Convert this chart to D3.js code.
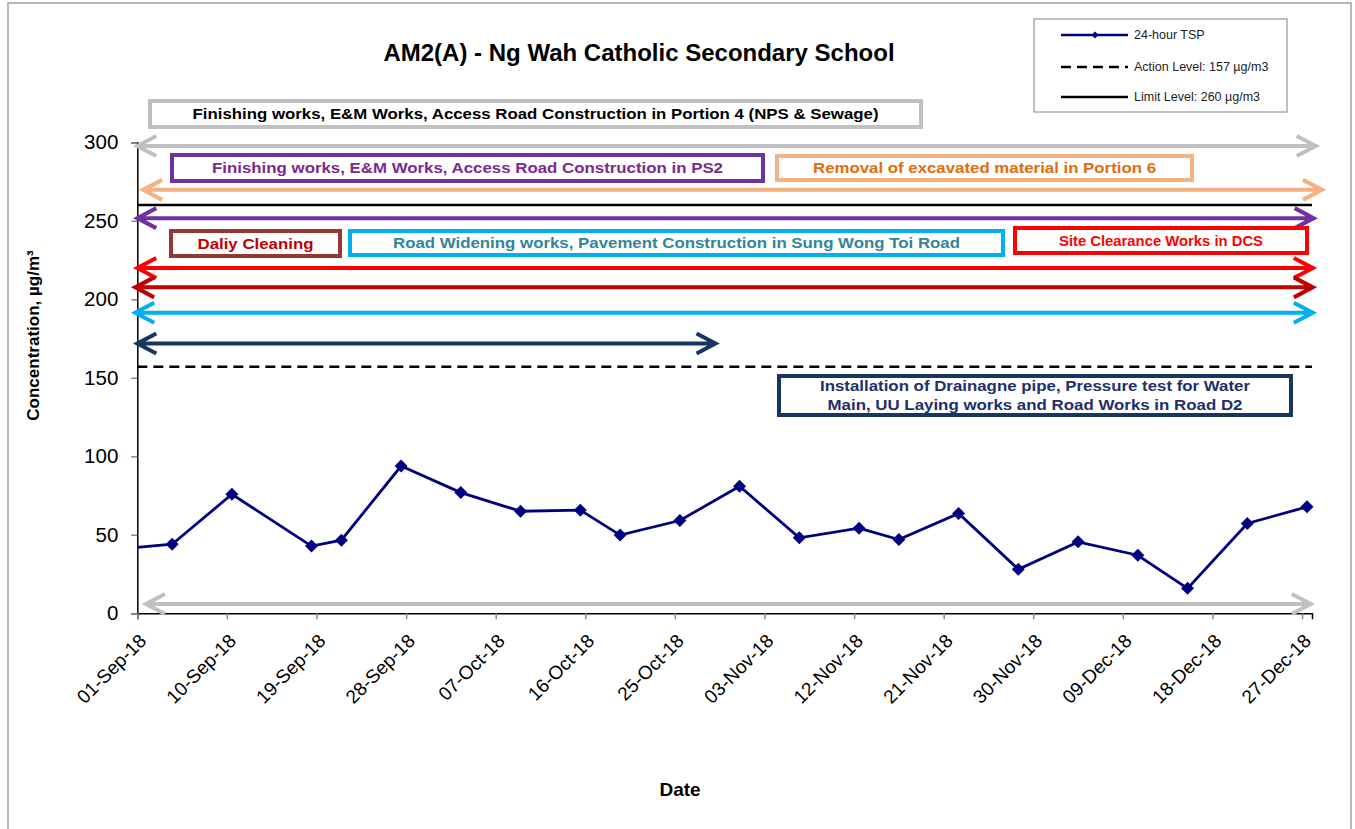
<!DOCTYPE html>
<html>
<head>
<meta charset="utf-8">
<script src="https://cdn.jsdelivr.net/npm/d3@7"></script>
<style>
  body { margin: 0; background: #fff; }
  svg { display: block; font-family: "Liberation Sans", Arial, sans-serif; }
</style>
</head>
<body>
<div id="chart"></div>
<script>
// 24-hour TSP sampling days and results (µg/m3)
const sampleDates = ["2018-08-29", "2018-09-04", "2018-09-10", "2018-09-18", "2018-09-21", "2018-09-27",
  "2018-10-03", "2018-10-09", "2018-10-15", "2018-10-19", "2018-10-25", "2018-10-31",
  "2018-11-06", "2018-11-12", "2018-11-16", "2018-11-22", "2018-11-28",
  "2018-12-04", "2018-12-10", "2018-12-15", "2018-12-21", "2018-12-27"];
const tspValues = [40.5, 44.0, 75.8, 42.8, 46.6, 93.8,
  76.9, 65.0, 65.7, 49.8, 59.1, 80.9,
  48.1, 54.2, 47.0, 63.6, 28.0,
  45.5, 37.0, 15.9, 57.2, 67.8];

const tickLabels = ["01-Sep-18", "10-Sep-18", "19-Sep-18", "28-Sep-18", "07-Oct-18", "16-Oct-18", "25-Oct-18",
  "03-Nov-18", "12-Nov-18", "21-Nov-18", "30-Nov-18", "09-Dec-18", "18-Dec-18", "27-Dec-18"];
const yTicks = [0, 50, 100, 150, 200, 250, 300];

const actionLevel = 157;
const limitLevel = 260;

// works period arrows: level on the y axis, start / end as days after 01-Sep-18
const arrowLevels = [297.7, 269.7, 251.7, 219.9, 207.6, 191.5, 171.8, 5.9];
const arrowStart = [0, 0.6, 0, 0, -0.2, -0.2, 0, 0.9];
const arrowEnd = [118.4, 119.0, 118.2, 118.1, 118.1, 118.1, 58.1, 117.9];
const arrowColors = ["#c0c0c0", "#f4b183", "#7030a0", "#ff0000", "#c00000", "#00b0f0", "#17375e", "#c0c0c0"];

// works labels
const workLabels = [
  ["Finishing works, E&M Works, Access Road Construction in Portion 4 (NPS & Sewage)"],
  ["Finishing works, E&M Works, Access Road Construction in PS2"],
  ["Removal of excavated material in Portion 6"],
  ["Daliy Cleaning"],
  ["Road Widening works, Pavement Construction in Sung Wong Toi Road"],
  ["Site Clearance Works in DCS"],
  ["Installation of Drainagne pipe, Pressure test for Water", "Main, UU Laying works and Road Works in Road D2"]
];
const workBorder = ["#c0c0c0", "#7030a0", "#f4b183", "#953735", "#00b0f0", "#ff0000", "#17375e"];
const workText = ["#000000", "#7b2a8e", "#e46c0a", "#c00000", "#31859c", "#ff0000", "#1f2f6b"];
// label box layout [x, y, w, h]
const workBoxes = [[150, 101, 771, 26], [172, 155, 591, 26], [777, 156, 415, 24], [171, 231, 169, 25],
  [350, 231, 653, 24], [1015, 228, 292, 25], [779, 376, 512, 39]];
const workTextWidth = [[686], [511], [343], [116], [567], [204], [430, 415]];

const width = 1355, height = 829;
const parse = d3.timeParse("%Y-%m-%d");
const day0 = parse("2018-09-01");

const x = d3.scaleTime().domain([day0, parse("2018-12-28")]).range([137.3, 1312]);
const y = d3.scaleLinear().domain([0, 300]).range([613.3, 142.3]);
const dayX = (n) => x(d3.timeHour.offset(day0, n * 24));

const svg = d3.create("svg").attr("width", width).attr("height", height);

// outer frame
svg.append("rect").attr("x", 8).attr("y", 3).attr("width", 1343).attr("height", 860)
  .attr("fill", "#fff").attr("stroke", "#a0a0a0").attr("stroke-width", 1.5);

// title
svg.append("text").attr("x", 639).attr("y", 61).attr("text-anchor", "middle")
  .attr("font-size", 24).attr("font-weight", "bold").text("AM2(A) - Ng Wah Catholic Secondary School");

// axes
const yAxis = svg.append("g").attr("transform", "translate(137.3,0)")
  .call(d3.axisLeft(y).tickValues(yTicks).tickSize(6).tickPadding(13).tickFormat(d3.format("d")));
const xAxis = svg.append("g").attr("transform", "translate(0,613.3)")
  .call(d3.axisBottom(x).tickValues(tickLabels.map(d3.timeParse("%d-%b-%y")))
    .tickSize(6).tickFormat(d3.timeFormat("%d-%b-%y")));
[yAxis, xAxis].forEach((g) => {
  g.select(".domain").attr("stroke", "#000").attr("stroke-width", 1.5);
  g.selectAll(".tick line").attr("stroke", "#888").attr("stroke-width", 1.5);
  g.selectAll(".tick text").attr("fill", "#000").attr("font-family", "Liberation Sans, Arial, sans-serif");
});
yAxis.selectAll(".tick text").attr("font-size", 20.5);
xAxis.selectAll(".tick text").attr("font-size", 19)
  .attr("y", 0).attr("dy", "0.35em").attr("text-anchor", "end")
  .attr("transform", "translate(5,24) rotate(-45)");

// axis titles
svg.append("text").attr("transform", "translate(38.5,335.5) rotate(-90)").attr("text-anchor", "middle")
  .attr("font-size", 17).attr("font-weight", "bold").text("Concentration, µg/m³");
svg.append("text").attr("x", 680).attr("y", 796).attr("text-anchor", "middle")
  .attr("font-size", 19).attr("font-weight", "bold").text("Date");

// action and limit levels
svg.append("line").attr("x1", x.range()[0]).attr("x2", x.range()[1])
  .attr("y1", y(actionLevel)).attr("y2", y(actionLevel))
  .attr("stroke", "#000").attr("stroke-width", 2.5).attr("stroke-dasharray", "10,6");
svg.append("line").attr("x1", x.range()[0]).attr("x2", x.range()[1])
  .attr("y1", y(limitLevel)).attr("y2", y(limitLevel))
  .attr("stroke", "#000").attr("stroke-width", 2.5);

// works period arrows
const arrows = svg.append("g").attr("fill", "none").attr("stroke-width", 4);
arrowLevels.forEach((lv, i) => {
  const a = dayX(arrowStart[i]), b = dayX(arrowEnd[i]), yy = y(lv);
  arrows.append("path")
    .attr("d", `M${a},${yy}H${b}M${a + 19},${yy - 10}L${a},${yy}L${a + 19},${yy + 10}M${b - 19},${yy - 10}L${b},${yy}L${b - 19},${yy + 10}`)
    .attr("stroke", arrowColors[i]);
});

// works label boxes
const defs = svg.append("defs");
workLabels.forEach((lines, i) => {
  const [bx, by, bw, bh] = workBoxes[i];
  defs.append("clipPath").attr("id", "clip" + i)
    .append("rect").attr("x", bx).attr("y", by).attr("width", bw).attr("height", bh);
  const g = svg.append("g");
  g.append("rect").attr("x", bx).attr("y", by).attr("width", bw).attr("height", bh).attr("fill", "#fff");
  const lineH = 19;
  const first = by + bh / 2 - (lines.length - 1) * lineH / 2 + 5;
  lines.forEach((t, j) => {
    g.append("text").attr("clip-path", `url(#clip${i})`)
      .attr("x", bx + bw / 2).attr("y", first + j * lineH).attr("text-anchor", "middle")
      .attr("font-size", 15).attr("font-weight", "bold").attr("fill", workText[i])
      .attr("textLength", workTextWidth[i][j]).attr("lengthAdjust", "spacingAndGlyphs")
      .text(t);
  });
  g.append("rect").attr("x", bx).attr("y", by).attr("width", bw).attr("height", bh)
    .attr("fill", "none").attr("stroke", workBorder[i]).attr("stroke-width", 4);
});

// TSP series
const series = sampleDates.map((d, i) => ({ date: d3.timeHour.offset(parse(d), 12), value: tspValues[i] }));
defs.append("clipPath").attr("id", "plotclip").append("rect")
  .attr("x", x.range()[0]).attr("y", 0).attr("width", x.range()[1] - x.range()[0] + 10).attr("height", height);
const plot = svg.append("g").attr("clip-path", "url(#plotclip)");
plot.append("path").datum(series)
  .attr("fill", "none").attr("stroke", "#000080").attr("stroke-width", 2.8)
  .attr("d", d3.line().x((d) => x(d.date)).y((d) => y(d.value)));
plot.selectAll(".pt").data(series).join("path").attr("class", "pt")
  .attr("transform", (d) => `translate(${x(d.date)},${y(d.value)})`)
  .attr("d", "M0,-6.5L6.5,0L0,6.5L-6.5,0Z").attr("fill", "#000080");

// legend
const legend = svg.append("g");
legend.append("rect").attr("x", 1034).attr("y", 19).attr("width", 253).attr("height", 93)
  .attr("fill", "#fff").attr("stroke", "#808080").attr("stroke-width", 1);
const legendItems = ["24-hour TSP", `Action Level: ${actionLevel} µg/m3`, `Limit Level: ${limitLevel} µg/m3`];
const legendY = [35, 67, 97];
legendItems.forEach((t, i) => {
  const ln = legend.append("line").attr("x1", 1061).attr("x2", 1128).attr("y1", legendY[i]).attr("y2", legendY[i])
    .attr("stroke", i === 0 ? "#000080" : "#000").attr("stroke-width", 2.5);
  if (i === 1) ln.attr("stroke-dasharray", "10,6");
  if (i === 0) legend.append("path").attr("transform", `translate(1095,${legendY[i]})`)
    .attr("d", "M0,-3.5L3.5,0L0,3.5L-3.5,0Z").attr("fill", "#000080");
  legend.append("text").attr("x", 1134).attr("y", legendY[i]).attr("dy", "0.35em")
    .attr("font-size", 12.5).attr("fill", "#222").text(t);
});

d3.select("#chart").node().appendChild(svg.node());
</script>
</body>
</html>
